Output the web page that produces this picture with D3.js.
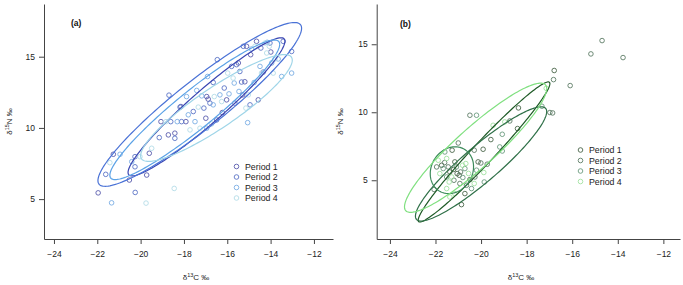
<!DOCTYPE html>
<html>
<head>
<meta charset="utf-8">
<script src="https://cdn.jsdelivr.net/npm/d3@7"></script>
<style>
  html, body { margin: 0; padding: 0; background: #fff; }
  svg { display: block; font-family: "Liberation Sans", Arial, sans-serif; }
  .axis path, .axis line { stroke: #444; }
  .axis text { fill: #222; font-size: 8.5px; }
</style>
</head>
<body>
<div id="chart"></div>
<script>
const PERIODS = ["Period 1", "Period 2", "Period 3", "Period 4"];
const X_TICKS = [-24, -22, -20, -18, -16, -14, -12];
const Y_TICKS = [5, 10, 15];

// panel (a) points, [d13C, d15N]
const A_P1 = [[-21.96,5.44],[-21.26,8.15],[-20.52,6.34],[-19.72,6.69],[-19.60,8.22],[-19.06,10.44],[-18.72,9.51],[-18.42,9.63],[-18.14,11.50],[-17.91,10.44],[-16.99,10.68],[-16.95,12.20],[-16.88,12.02],[-16.23,11.08],[-16.03,11.97],[-15.49,14.56],[-15.29,12.32],[-15.19,13.24],[-15.11,15.73],[-14.92,15.14],[-14.65,16.08],[-14.57,11.97],[-13.99,15.33]];
const A_P2 = [[-21.61,6.74],[-20.26,7.98],[-20.26,7.27],[-20.25,5.47],[-19.14,9.32],[-18.69,12.30],[-18.61,10.44],[-18.42,9.27],[-18.18,11.46],[-18.11,10.44],[-17.57,11.15],[-17.08,11.39],[-16.80,11.74],[-16.65,13.19],[-16.49,10.56],[-16.46,14.79],[-16.14,12.80],[-15.80,14.32],[-15.65,11.74],[-15.57,14.44],[-15.42,13.96],[-15.34,13.22],[-15.26,15.73],[-14.95,11.62],[-14.45,15.61],[-14.34,13.92],[-14.03,15.96],[-13.42,16.08],[-13.03,15.37]];
const A_P3 = [[-21.34,4.74],[-20.95,8.15],[-20.41,7.63],[-18.31,10.44],[-17.88,12.20],[-17.80,10.92],[-17.49,10.44],[-17.41,12.63],[-17.18,12.25],[-16.95,9.98],[-16.91,13.61],[-16.65,11.62],[-16.34,12.32],[-15.92,12.39],[-15.68,13.15],[-15.46,12.56],[-15.06,10.37],[-14.88,15.54],[-14.76,13.19],[-14.49,14.32],[-14.16,16.01],[-13.95,14.56],[-13.65,14.84],[-13.49,13.61],[-13.03,13.85]];
const A_P4 = [[-21.42,7.56],[-20.03,7.98],[-19.75,4.72],[-19.49,8.57],[-18.83,10.44],[-18.45,5.75],[-17.72,9.86],[-17.34,11.46],[-17.26,9.98],[-16.72,10.28],[-16.60,12.20],[-16.26,11.85],[-15.98,13.85],[-15.73,13.50],[-15.14,11.39],[-15.03,12.32],[-14.72,15.73],[-14.42,13.85],[-14.26,15.96],[-14.18,15.26],[-14.06,15.73],[-13.88,13.85],[-13.80,14.84]];

// panel (b) points
const B_P1 = [[-16.79,13.07],[-18.36,10.32],[-18.40,8.80],[-19.57,7.99],[-19.91,7.28],[-21.27,7.21],[-20.13,6.35],[-20.49,5.05],[-20.71,4.02],[-20.86,3.21],[-21.73,6.10],[-21.37,5.61],[-21.15,6.35],[-21.05,5.49],[-20.96,5.37],[-21.20,5.80]];
const B_P2 = [[-14.69,15.27],[-15.18,14.29],[-13.77,14.02],[-16.82,12.40],[-16.09,11.96],[-16.98,9.98],[-16.86,9.95],[-20.49,9.78],[-18.74,9.36],[-20.30,7.21],[-21.00,7.74],[-20.01,6.27],[-19.73,6.18],[-20.27,5.24],[-20.64,4.63],[-22.06,4.32],[-21.44,5.98],[-20.90,5.61],[-21.19,5.00],[-20.93,4.76],[-21.95,5.98],[-21.60,6.30]];
const B_P3 = [[-17.33,10.44],[-20.20,9.78],[-19.07,8.38],[-19.18,7.45],[-19.07,7.15],[-20.20,5.74],[-19.86,4.87],[-21.66,5.86],[-21.08,5.98],[-20.71,5.86],[-21.51,5.24],[-20.42,4.39],[-21.59,7.08],[-20.80,5.20]];
const B_P4 = [[-17.14,11.76],[-18.96,9.29],[-19.47,9.04],[-19.88,5.57],[-20.30,4.76],[-21.51,6.60],[-21.29,5.24],[-20.81,6.10],[-20.67,6.23],[-21.40,4.87],[-21.15,4.02],[-21.37,3.77],[-21.88,6.47],[-21.81,5.49],[-21.51,4.39],[-20.55,5.50]];

// standard ellipses: [centre x, centre y, sd x, sd y, correlation]
const A_ELLIPSES = [[-16.96,11.48,3.62,4.85,0.950],[-17.27,11.65,4.70,5.75,0.930],[-17.50,11.27,3.92,4.90,0.938],[-16.50,11.40,3.50,3.75,0.895]];
const B_ELLIPSES = [[-19.87,7.08,2.89,5.15,0.975],[-20.00,6.20,2.88,4.20,0.915],[-21.28,5.74,0.95,1.72,0.150],[-20.24,7.39,3.12,4.75,0.915]];

const A_POINT_COLORS = ["#5a5cae", "#5b74c6", "#7aaee4", "#b4dce8"];
const A_LINE_COLORS = ["#3a46b2", "#4a72d6", "#5ba2e6", "#9fd5e8"];
const B_POINT_COLORS = ["#4b674b", "#5d7d66", "#6c9c80", "#a2e2a2"];
const B_LINE_COLORS = ["#1e5a26", "#2f7048", "#3b8a5a", "#80e080"];

const W = 683, H = 285;

const svg = d3.select("#chart")
  .append("svg")
  .attr("width", W)
  .attr("height", H);

drawPanel({
  label: "(a)", labelX: 71, labelY: 26,
  xRange: [44, 333], xDomain: [-24.46, -11.12],
  yRange: [239, 4], yDomain: [2.2, 18.7],
  yTitleX: 12, xTitleX: 196,
  points: [A_P1, A_P2, A_P3, A_P4],
  ellipses: A_ELLIPSES,
  pointColors: A_POINT_COLORS, lineColors: A_LINE_COLORS,
  legendX: 236.5, legendY: 166.5
});

drawPanel({
  label: "(b)", labelX: 400, labelY: 27,
  xRange: [376.7, 680], xDomain: [-24.58, -11.27],
  yRange: [239, 4], yDomain: [0.68, 17.96],
  yTitleX: 343, xTitleX: 521,
  points: [B_P1, B_P2, B_P3, B_P4],
  ellipses: B_ELLIPSES,
  pointColors: B_POINT_COLORS, lineColors: B_LINE_COLORS,
  legendX: 580.5, legendY: 150
});

function drawPanel(p) {
  const x = d3.scaleLinear().domain(p.xDomain).range(p.xRange);
  const y = d3.scaleLinear().domain(p.yDomain).range(p.yRange);
  const g = svg.append("g");

  g.append("g")
    .attr("class", "axis")
    .attr("transform", `translate(0,${p.yRange[0]})`)
    .call(d3.axisBottom(x).tickValues(X_TICKS).tickSize(5).tickSizeOuter(0).tickPadding(7))
    .call(a => a.select(".domain").attr("stroke-width", 1));

  g.append("g")
    .attr("class", "axis")
    .attr("transform", `translate(${p.xRange[0]},0)`)
    .call(d3.axisLeft(y).tickValues(Y_TICKS).tickSize(5).tickSizeOuter(0).tickPadding(4))
    .call(a => a.select(".domain").attr("stroke-width", 1));

  // axis titles
  const xt = g.append("text")
    .attr("x", p.xTitleX)
    .attr("y", 280)
    .attr("text-anchor", "middle")
    .attr("font-size", 8)
    .attr("fill", "#222");
  xt.append("tspan").text("δ");
  xt.append("tspan").attr("font-size", 5.5).attr("dy", -3).text("13");
  xt.append("tspan").attr("dy", 3).text("C ‰");

  const yt = g.append("text")
    .attr("transform", `translate(${p.yTitleX},${(p.yRange[0] + p.yRange[1]) / 2}) rotate(-90)`)
    .attr("text-anchor", "middle")
    .attr("font-size", 8)
    .attr("fill", "#222");
  yt.append("tspan").text("δ");
  yt.append("tspan").attr("font-size", 5.5).attr("dy", -3).text("15");
  yt.append("tspan").attr("dy", 3).text("N ‰");

  g.append("text")
    .attr("x", p.labelX)
    .attr("y", p.labelY)
    .attr("font-size", 8.5)
    .attr("font-weight", "bold")
    .attr("fill", "#111")
    .text(p.label);

  // points
  p.points.forEach((pts, i) => {
    g.append("g")
      .selectAll("circle")
      .data(pts)
      .enter()
      .append("circle")
      .attr("cx", d => x(d[0]))
      .attr("cy", d => y(d[1]))
      .attr("r", 2.3)
      .attr("fill", "none")
      .attr("stroke", p.pointColors[i])
      .attr("stroke-width", 0.9);
  });

  // ellipses
  const steps = d3.range(0, 2 * Math.PI + 0.001, Math.PI / 90);
  const line = d3.line().x(d => x(d[0])).y(d => y(d[1]));
  p.ellipses.forEach((e, i) => {
    const [cx, cy, sx, sy, rho] = e;
    const path = steps.map(t => [
      cx + sx * Math.cos(t),
      cy + sy * (rho * Math.cos(t) + Math.sqrt(1 - rho * rho) * Math.sin(t))
    ]);
    g.append("path")
      .attr("d", line(path))
      .attr("fill", "none")
      .attr("stroke", p.lineColors[i])
      .attr("stroke-width", 1.2);
  });

  // legend
  const legend = g.selectAll(".legend-item")
    .data(PERIODS)
    .enter()
    .append("g")
    .attr("class", "legend-item")
    .attr("transform", (d, i) => `translate(${p.legendX},${p.legendY + i * 10.5})`);

  legend.append("circle")
    .attr("r", 2.3)
    .attr("fill", "none")
    .attr("stroke", (d, i) => p.pointColors[i])
    .attr("stroke-width", 0.9);

  legend.append("text")
    .attr("x", 8.5)
    .attr("dy", "0.35em")
    .attr("font-size", 8.8)
    .attr("fill", "#222")
    .text(d => d);
}
</script>
</body>
</html>
